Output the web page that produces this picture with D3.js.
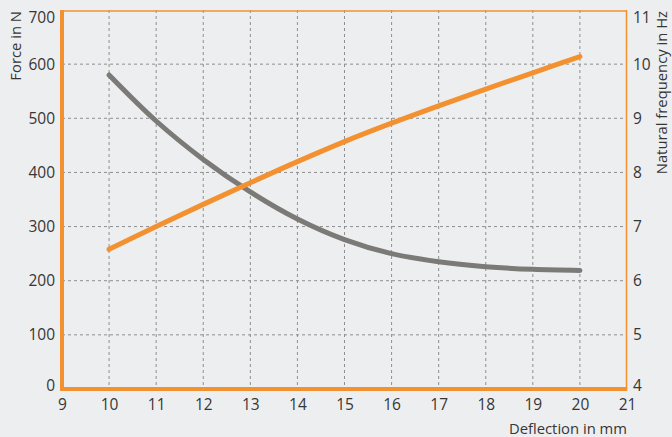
<!DOCTYPE html>
<html><head><meta charset="utf-8">
<script src="https://cdn.jsdelivr.net/npm/d3@7"></script>
<style>
html,body{margin:0;padding:0;background:#edeef0;}
svg{display:block;font-family:"Open Sans",sans-serif;}
</style></head>
<body>
<svg id="c" width="672" height="437"></svg>
<script>
const deflection = [10, 11, 12, 13, 14, 15, 16, 17, 18, 19, 20];
const force = [258, 300, 341, 381, 420, 457, 491, 523, 554, 584, 614];
const frequency = [9.80, 8.95, 8.24, 7.64, 7.14, 6.76, 6.50, 6.35, 6.26, 6.21, 6.19];
const xTicks = [9, 10, 11, 12, 13, 14, 15, 16, 17, 18, 19, 20, 21];
const forceTicks = [0, 100, 200, 300, 400, 500, 600, 700];
const freqTicks = [4, 5, 6, 7, 8, 9, 10, 11];

const svg = d3.select("#c");
const L = 62, R = 627, T = 10, B = 389;
const x = d3.scaleLinear().domain([9, 21]).range([L, R]);
const yL = d3.scaleLinear().domain([0, 700]).range([B, T]);
const yR = d3.scaleLinear().domain([4, 11]).range([B, T]);
const orange = "#f39130", grey = "#7b7a76", txt = "#363636";

// grid
const g = svg.append("g");
g.selectAll(".vg").data(xTicks.filter(d => d > 9 && d < 21)).enter().append("line")
  .attr("x1", d => x(d)).attr("x2", d => x(d)).attr("y1", T).attr("y2", B)
  .attr("stroke", "#8e8e8e").attr("stroke-width", 1).attr("stroke-dasharray", "3,3");
g.selectAll(".hg").data(forceTicks.filter(d => d > 0 && d < 700)).enter().append("line")
  .attr("x1", L).attr("x2", R).attr("y1", d => yL(d)).attr("y2", d => yL(d))
  .attr("stroke", "#8e8e8e").attr("stroke-width", 1).attr("stroke-dasharray", "3,3");

// frame
svg.append("line").attr("x1", L).attr("x2", R).attr("y1", T + 1).attr("y2", T + 1).attr("stroke", orange).attr("stroke-width", 1.5);
svg.append("line").attr("x1", R - 0.5).attr("x2", R - 0.5).attr("y1", T).attr("y2", B).attr("stroke", orange).attr("stroke-width", 1.5);
svg.append("line").attr("x1", L).attr("x2", L).attr("y1", T).attr("y2", B + 2).attr("stroke", orange).attr("stroke-width", 4);
svg.append("line").attr("x1", L - 2).attr("x2", R + 0.2).attr("y1", B).attr("y2", B).attr("stroke", orange).attr("stroke-width", 4);

// axes labels via d3 axes
const axL = svg.append("g").attr("transform", `translate(${L - 7},0)`)
  .call(d3.axisLeft(yL).tickValues(forceTicks).tickFormat(d3.format("d")).tickSize(0).tickPadding(0));
const axR = svg.append("g").attr("transform", `translate(${R + 6},0)`)
  .call(d3.axisRight(yR).tickValues(freqTicks).tickFormat(d3.format("d")).tickSize(0).tickPadding(0));
const axB = svg.append("g").attr("transform", `translate(0,${B + 8})`)
  .call(d3.axisBottom(x).tickValues(xTicks).tickFormat(d3.format("d")).tickSize(0).tickPadding(0));
[axL, axR, axB].forEach(a => {
  a.select(".domain").remove();
  a.selectAll("text").attr("font-size", 15.5).attr("fill", txt).attr("font-family", "Open Sans, sans-serif");
});
axB.selectAll("text").attr("dy", "0.85em");
// nudge end labels inside the frame as in the original
axL.selectAll(".tick text").attr("dy", d => d === 700 ? "0.8em" : d === 0 ? "0.1em" : "0.32em");
axR.selectAll(".tick text").attr("dy", d => d === 11 ? "0.8em" : d === 4 ? "0.1em" : "0.32em");

// titles
svg.append("text").attr("transform", "translate(21,11) rotate(-90)").attr("text-anchor", "end")
  .attr("font-size", 14.8).attr("fill", txt).text("Force in N");
svg.append("text").attr("transform", "translate(656,11) rotate(-90)").attr("text-anchor", "end")
  .attr("dy", "0.75em").attr("font-size", 14.8).attr("fill", txt).text("Natural frequency in Hz");
svg.append("text").attr("x", R).attr("y", 434).attr("text-anchor", "end")
  .attr("font-size", 14.8).attr("fill", txt).text("Deflection in mm");

// series
const lineF = d3.line().x((d, i) => x(deflection[i])).y(d => yL(d)).curve(d3.curveCatmullRom.alpha(0.5));
const lineH = d3.line().x((d, i) => x(deflection[i])).y(d => yR(d)).curve(d3.curveCatmullRom.alpha(0.5));
svg.append("path").datum(frequency).attr("d", lineH).attr("fill", "none")
  .attr("stroke", grey).attr("stroke-width", 5).attr("stroke-linecap", "round");
svg.append("path").datum(force).attr("d", lineF).attr("fill", "none")
  .attr("stroke", orange).attr("stroke-width", 5).attr("stroke-linecap", "round");
</script>
</body></html>
